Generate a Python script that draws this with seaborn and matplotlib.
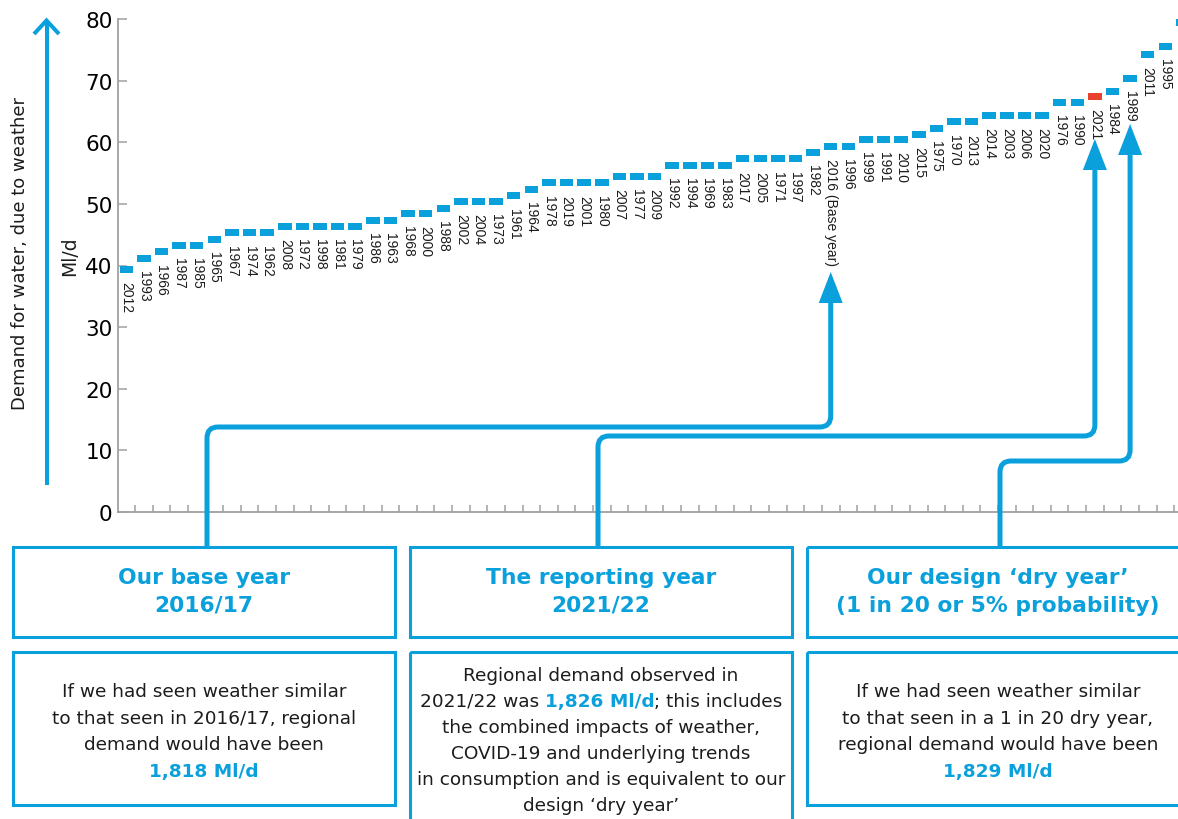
import numpy as np
import pandas as pd
import matplotlib
matplotlib.use("Agg")
import matplotlib.pyplot as plt
import seaborn as sns
from matplotlib.path import Path
from matplotlib.patches import PathPatch, Polygon, Rectangle
from matplotlib.markers import MarkerStyle

# ---------------- data ----------------
years = ["2012", "1993", "1966", "1987", "1985", "1965", "1967", "1974", "1962",
         "2008", "1972", "1998", "1981", "1979", "1986", "1963", "1968", "2000",
         "1988", "2002", "2004", "1973", "1961", "1964", "1978", "2019", "2001",
         "1980", "2007", "1977", "2009", "1992", "1994", "1969", "1983", "2017",
         "2005", "1971", "1997", "1982", "2016 (Base year)", "1996", "1999", "1991",
         "2010", "2015", "1975", "1970", "2013", "2014", "2003", "2006", "2020",
         "1976", "1990", "2021", "1984", "1989", "2011", "1995", ""]
demand = [39.4, 41.2, 42.2, 43.3, 43.3, 44.3, 45.3, 45.3, 45.3,
          46.4, 46.4, 46.4, 46.4, 46.4, 47.3, 47.3, 48.4, 48.4,
          49.3, 50.4, 50.4, 50.4, 51.3, 52.3, 53.4, 53.4, 53.4,
          53.4, 54.4, 54.4, 54.4, 56.3, 56.3, 56.3, 56.3, 57.3,
          57.3, 57.3, 57.3, 58.4, 59.3, 59.3, 60.4, 60.4,
          60.4, 61.3, 62.3, 63.3, 63.3, 64.3, 64.3, 64.3, 64.3,
          66.4, 66.4, 67.5, 68.3, 70.3, 74.3, 75.5, 79.5]
reporting_year = "2021"
yticks = [0, 10, 20, 30, 40, 50, 60, 70, 80]

box_titles = [["Our base year", "2016/17"],
              ["The reporting year", "2021/22"],
              ["Our design \u2018dry year\u2019", "(1 in 20 or 5% probability)"]]
box1_body = ["If we had seen weather similar",
             "to that seen in 2016/17, regional",
             "demand would have been"]
box1_value = "1,818 Ml/d"
box2_body_top = "Regional demand observed in"
box2_value = "1,826 Ml/d"
box2_body_rest = ["the combined impacts of weather,",
                  "COVID-19 and underlying trends",
                  "in consumption and is equivalent to our",
                  "design \u2018dry year\u2019"]
box3_body = ["If we had seen weather similar",
             "to that seen in a 1 in 20 dry year,",
             "regional demand would have been"]
box3_value = "1,829 Ml/d"

# ---------------- style ----------------
BLUE = "#0aa0dc"
RED = "#e8412d"
GREY = "#a0a0a0"
TXT = "#1c1c1c"

sns.set_theme(style="white")
plt.rcParams['font.family'] = ['DejaVu Sans']

W, H = 1178, 820
fig = plt.figure(figsize=(W / 100, H / 100), dpi=100)
fig.patch.set_facecolor("white")

ax = fig.add_axes([118 / W, (H - 513) / H, (W - 118) / W, 493 / H])

df = pd.DataFrame({
    "pos": np.arange(len(years)),
    "demand": demand,
    "year": years,
})
df["kind"] = np.where(df["year"] == reporting_year, "report", "other")

rect = Path([(-6.75, -3.5), (6.75, -3.5), (6.75, 3.5), (-6.75, 3.5), (-6.75, -3.5)],
            [Path.MOVETO, Path.LINETO, Path.LINETO, Path.LINETO, Path.CLOSEPOLY])
sns.scatterplot(data=df, x="pos", y="demand", hue="kind",
                palette={"other": BLUE, "report": RED},
                marker=MarkerStyle(rect), s=94.5, linewidth=0,
                legend=False, ax=ax, zorder=3)

for _, row in df.iterrows():
    ax.annotate(row["year"], (row["pos"], row["demand"]), xytext=(0, -8.4),
                textcoords="offset points", rotation=-90, ha="center", va="top",
                fontsize=10, family=["Liberation Sans", "DejaVu Sans"], color=TXT,
                annotation_clip=False)

ax.set_xlim(-0.47, 59.72)
ax.set_ylim(0, 80)
ax.set_xlabel("")
ax.set_ylabel("")
ax.set_yticks(yticks)
ax.set_yticklabels([str(v) for v in yticks])
ax.set_xticks([])
ax.set_xticks(np.arange(0.5, 60, 1), minor=True)
ax.tick_params(axis="y", direction="in", length=6.5, width=1.1, color=GREY,
               labelsize=15.5, labelcolor="black", pad=4, left=True)
ax.tick_params(axis="x", which="minor", direction="in", length=5, width=1.1,
               color=GREY, bottom=True)
for s in ["top", "right"]:
    ax.spines[s].set_visible(False)
for s in ["left", "bottom"]:
    ax.spines[s].set_color(GREY)
    ax.spines[s].set_linewidth(1.3)
ax.set_facecolor("white")

# ---------------- overlay (pixel coords) ----------------
ov = fig.add_axes([0, 0, 1, 1])
ov.set_xlim(0, W)
ov.set_ylim(H, 0)
ov.axis("off")
ov.patch.set_alpha(0)

LW = 3.6  # ~5px


def rounded(points, r=11):
    verts = [points[0]]
    codes = [Path.MOVETO]
    for i in range(1, len(points) - 1):
        p0 = np.array(points[i - 1], float)
        p1 = np.array(points[i], float)
        p2 = np.array(points[i + 1], float)
        d0 = (p1 - p0) / np.linalg.norm(p1 - p0)
        d1 = (p2 - p1) / np.linalg.norm(p2 - p1)
        a = p1 - d0 * r
        b = p1 + d1 * r
        verts += [tuple(a), tuple(p1), tuple(b)]
        codes += [Path.LINETO, Path.CURVE3, Path.CURVE3]
    verts.append(points[-1])
    codes.append(Path.LINETO)
    return Path(verts, codes)


def px_x(i):
    return ax.transData.transform((i, 0))[0]


connectors = [
    (207, 428, years.index("2016 (Base year)"), 273),
    (598, 437, years.index("2021"), 140),
    (1000, 462, years.index("1989"), 125),
]
for x0, yh, idx, tip in connectors:
    xt = px_x(idx)
    path = rounded([(x0, 548), (x0, yh), (xt, yh), (xt, tip + 25)])
    ov.add_patch(PathPatch(path, fill=False, edgecolor=BLUE, lw=LW,
                           capstyle="butt", clip_on=False))
    ov.add_patch(Polygon([(xt, tip), (xt - 12, tip + 31), (xt + 12, tip + 31)],
                         closed=True, facecolor=BLUE, edgecolor="none", clip_on=False))

# left axis arrow
ov.plot([46.5, 46.5], [486, 22], color=BLUE, lw=2.9, solid_capstyle="butt")
ov.plot([34, 46.5, 59], [35, 21.5, 35], color=BLUE, lw=2.9,
        solid_capstyle="butt", solid_joinstyle="miter")
ov.text(20, 254, "Demand for water, due to weather", rotation=90, ha="center",
        va="center", fontsize=13, color=TXT)
ov.text(70, 256, "Ml/d", rotation=90, ha="center", va="center", fontsize=13.5, color=TXT)

# boxes
box_x = [13, 410, 807]
box_w = 382
TFS = 15.7
for i, x in enumerate(box_x):
    ov.add_patch(Rectangle((x, 548), box_w, 90, fill=False, edgecolor=BLUE,
                           lw=2.2, clip_on=False))
    body_h = 153 if i != 1 else 200
    ov.add_patch(Rectangle((x, 653), box_w, body_h, fill=False, edgecolor=BLUE,
                           lw=2.2, clip_on=False))
    cx = x + box_w / 2
    ov.text(cx, 578, box_titles[i][0], ha="center", va="center", fontsize=TFS,
            fontweight="bold", color=BLUE)
    ov.text(cx, 606, box_titles[i][1], ha="center", va="center", fontsize=TFS,
            fontweight="bold", color=BLUE)

BFS = 13.3
# box 1
cx = box_x[0] + box_w / 2
for j, line in enumerate(box1_body):
    ov.text(cx, 692 + j * 26.7, line, ha="center", va="center", fontsize=BFS, color=TXT)
ov.text(cx, 692 + 3 * 26.7, box1_value, ha="center", va="center", fontsize=BFS,
        fontweight="bold", color=BLUE)
# box 3
cx = box_x[2] + box_w / 2
for j, line in enumerate(box3_body):
    ov.text(cx, 692 + j * 26.7, line, ha="center", va="center", fontsize=BFS, color=TXT)
ov.text(cx, 692 + 3 * 26.7, box3_value, ha="center", va="center", fontsize=BFS,
        fontweight="bold", color=BLUE)
# box 2
cx = box_x[1] + box_w / 2
ov.text(cx, 676, box2_body_top, ha="center", va="center", fontsize=BFS, color=TXT)
renderer = fig.canvas.get_renderer()
parts = [("2021/22 was", TXT, "normal", True),
         (box2_value, BLUE, "bold", False),
         ("; this includes", TXT, "normal", False)]
tmp1 = ov.text(0, 0, "x x", fontsize=BFS)
tmp2 = ov.text(0, 0, "xx", fontsize=BFS)
space_w = tmp1.get_window_extent(renderer).width - tmp2.get_window_extent(renderer).width
tmp1.remove()
tmp2.remove()
objs, widths = [], []
for s, c, w, sp in parts:
    t = ov.text(0, 702, s, ha="left", va="center", fontsize=BFS, color=c, fontweight=w)
    wd = t.get_window_extent(renderer).width + (space_w if sp else 0)
    objs.append(t)
    widths.append(wd)
xcur = cx - sum(widths) / 2
for t, wd in zip(objs, widths):
    t.set_x(xcur)
    xcur += wd
for j, line in enumerate(box2_body_rest):
    ov.text(cx, 728 + j * 26, line, ha="center", va="center", fontsize=BFS, color=TXT)

fig.savefig("out.png", dpi=100, facecolor="white")
